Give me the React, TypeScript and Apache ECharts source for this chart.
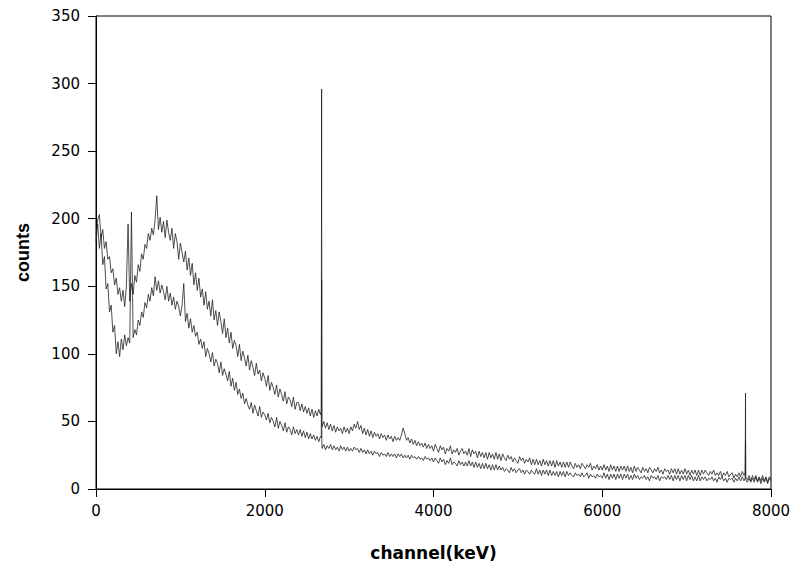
import React, { useEffect, useRef } from "react";
import * as echarts from "echarts";

const STEP = 20; // channel spacing (keV) of the sampled values below

// upper spectrum, one value every 20 keV from 0 to 8000 (20 values per 400 keV row)
const upperCounts = [
  188, 199, 203, 186, 192, 178, 183, 170, 172, 160, 163, 151, 156, 144, 149, 139, 147, 135, 150, 196,
  139, 152, 144, 158, 153, 166, 161, 174, 170, 181, 178, 189, 184, 193, 188, 199, 217, 192, 201, 190,
  198, 186, 199, 190, 184, 193, 178, 189, 183, 170, 182, 175, 168, 176, 162, 171, 158, 167, 151, 160,
  147, 156, 142, 148, 136, 146, 133, 139, 128, 140, 125, 132, 121, 131, 124, 115, 126, 112, 119, 108,
  116, 104, 110, 106, 98, 107, 95, 102, 97, 91, 99, 88, 95, 90, 84, 93, 85, 88, 80, 86,
  82, 76, 84, 73, 79, 75, 70, 77, 68, 74, 70, 65, 72, 63, 68, 66, 61, 68, 59, 64,
  64, 58, 63, 57, 61, 56, 60, 54, 59, 53, 58, 54, 59, 55, 46, 50, 45, 49, 44, 48,
  43, 47, 42, 46, 43, 45, 41, 46, 42, 45, 41, 46, 43, 48, 45, 50, 44, 47, 41, 45,
  40, 44, 39, 43, 38, 42, 39, 41, 37, 41, 38, 40, 36, 40, 37, 39, 35, 39, 36, 38,
  36, 40, 45, 41, 36, 38, 34, 37, 33, 36, 32, 35, 32, 34, 31, 34, 30, 33, 30, 32,
  28, 33, 30, 27, 32, 29, 31, 26, 30, 28, 32, 26, 29, 27, 30, 25, 28, 30, 26, 28,
  25, 30, 24, 29, 26, 28, 23, 28, 24, 27, 23, 27, 22, 27, 23, 26, 22, 27, 22, 26,
  21, 26, 23, 21, 25, 22, 24, 20, 23, 21, 19, 24, 21, 23, 19, 22, 20, 23, 18, 22,
  18, 22, 18, 21, 17, 22, 18, 21, 17, 21, 17, 21, 16, 21, 17, 20, 16, 20, 16, 20,
  16, 20, 17, 15, 19, 16, 18, 15, 19, 17, 15, 18, 16, 19, 14, 17, 15, 18, 14, 17,
  14, 18, 14, 17, 13, 18, 14, 17, 13, 17, 13, 17, 14, 17, 13, 17, 13, 16, 12, 17,
  13, 16, 14, 12, 16, 13, 15, 12, 16, 14, 12, 15, 13, 16, 12, 14, 11, 15, 13, 14,
  11, 15, 12, 15, 11, 15, 11, 14, 11, 15, 11, 14, 10, 14, 11, 14, 10, 14, 10, 14,
  11, 14, 12, 10, 13, 11, 14, 10, 12, 10, 13, 9, 12, 10, 13, 9, 11, 12, 8, 11,
  9, 12, 9, 13, 10, 8, 7, 10, 6, 10, 7, 10, 6, 9, 6, 10, 6, 9, 5, 9,
  7,
];

// lower spectrum, one value every 20 keV from 0 to 8000 (20 values per 400 keV row)
const lowerCounts = [
  183, 196, 178, 189, 166, 172, 148, 152, 131, 136, 116, 121, 100, 109, 98, 111, 103, 114, 106, 112,
  108, 205, 112, 118, 114, 125, 121, 131, 127, 138, 134, 144, 139, 149, 143, 157, 147, 154, 145, 151,
  146, 140, 150, 139, 145, 136, 142, 133, 139, 135, 128, 136, 152, 124, 130, 119, 126, 116, 121, 113,
  116, 107, 111, 104, 109, 98, 104, 100, 94, 101, 91, 96, 93, 86, 94, 84, 89, 85, 80, 87,
  76, 82, 73, 79, 70, 74, 67, 71, 63, 67, 62, 59, 64, 56, 62, 58, 54, 61, 53, 57,
  55, 51, 56, 49, 53, 50, 46, 53, 45, 50, 47, 43, 49, 42, 46, 44, 40, 46, 41, 44,
  40, 44, 39, 43, 38, 42, 37, 41, 37, 40, 36, 39, 35, 39, 30, 33, 29, 32, 30, 33,
  29, 32, 29, 31, 28, 32, 29, 31, 28, 31, 28, 30, 28, 31, 29, 30, 27, 30, 27, 29,
  26, 29, 26, 28, 25, 28, 26, 27, 24, 27, 25, 26, 24, 27, 24, 26, 24, 26, 23, 26,
  24, 26, 23, 25, 23, 25, 22, 25, 23, 24, 22, 24, 22, 23, 21, 24, 22, 23, 21, 23,
  20, 23, 21, 19, 23, 20, 22, 18, 21, 19, 23, 18, 20, 19, 17, 21, 18, 20, 17, 20,
  17, 21, 17, 20, 16, 20, 16, 19, 15, 19, 15, 19, 15, 18, 14, 18, 14, 18, 14, 17,
  14, 16, 13, 15, 14, 12, 16, 13, 15, 12, 14, 15, 12, 14, 11, 14, 13, 11, 14, 12,
  11, 15, 11, 14, 10, 14, 11, 14, 10, 14, 10, 13, 10, 13, 9, 13, 10, 13, 9, 13,
  10, 12, 10, 9, 12, 10, 11, 9, 12, 9, 10, 12, 8, 11, 9, 10, 8, 11, 9, 10,
  8, 12, 8, 11, 7, 11, 8, 11, 7, 11, 8, 11, 7, 11, 8, 11, 7, 10, 7, 11,
  8, 10, 7, 9, 8, 10, 7, 9, 6, 10, 8, 9, 7, 10, 6, 9, 8, 9, 7, 10,
  7, 10, 6, 10, 7, 10, 6, 10, 7, 10, 6, 10, 7, 10, 6, 9, 6, 10, 6, 9,
  7, 9, 6, 8, 7, 9, 6, 8, 5, 9, 7, 9, 6, 8, 5, 8, 7, 8, 5, 8,
  6, 9, 6, 9, 6, 7, 5, 8, 5, 8, 5, 9, 5, 8, 4, 8, 5, 8, 4, 8,
  6,
];

// narrow photo-peaks between the sampled channels: [channel keV, counts]
const upperPeaks = [
  [2670, 58], [2674, 296], [2677, 50],
  [7694, 12], [7698, 71],
];
const lowerPeaks = [
  [2670, 38], [2674, 155], [2677, 32],
  [7694, 8], [7698, 36],
];

const X_MIN = 0;
const X_MAX = 8000;
const X_INTERVAL = 2000;
const Y_MIN = 0;
const Y_MAX = 350;
const Y_INTERVAL = 50;

function toPoints(values: number[], peaks: number[][]) {
  const pts = values.map((v, i) => [i * STEP, v]);
  return pts.concat(peaks).sort((a, b) => a[0] - b[0]);
}

export default function App() {
  const ref = useRef<HTMLDivElement>(null);
  useEffect(() => {
    if (!ref.current) return;
    const chart = echarts.init(ref.current, undefined, { renderer: "svg" });
    const tickFont = { fontFamily: "DejaVu Sans", fontSize: 15, color: "#000" };
    chart.setOption({
      animation: false,
      backgroundColor: "#fff",
      grid: {
        left: 96,
        right: 26,
        top: 16,
        bottom: 87,
        show: true,
        borderColor: "#000",
        borderWidth: 1,
      },
      xAxis: {
        type: "value",
        min: X_MIN,
        max: X_MAX,
        interval: X_INTERVAL,
        name: "channel(keV)",
        nameLocation: "middle",
        nameGap: 55,
        nameTextStyle: { fontFamily: "DejaVu Sans", fontWeight: "bold", fontSize: 17, color: "#000" },
        axisLine: { show: true, lineStyle: { color: "#000", width: 1 } },
        axisTick: { show: true, inside: false, length: 8, lineStyle: { color: "#000" } },
        axisLabel: { ...tickFont, margin: 14, formatter: (v: number) => String(v) },
        splitLine: { show: false },
      },
      yAxis: {
        type: "value",
        min: Y_MIN,
        max: Y_MAX,
        interval: Y_INTERVAL,
        name: "counts",
        nameLocation: "middle",
        nameGap: 64,
        nameRotate: 90,
        nameTextStyle: { fontFamily: "Liberation Sans", fontWeight: "bold", fontSize: 18, color: "#000" },
        axisLine: { show: true, lineStyle: { color: "#000", width: 1 } },
        axisTick: { show: true, inside: false, length: 8, lineStyle: { color: "#000" } },
        axisLabel: { ...tickFont, margin: 16, formatter: (v: number) => String(v) },
        splitLine: { show: false },
      },
      series: [
        {
          type: "line",
          data: toPoints(upperCounts, upperPeaks),
          showSymbol: false,
          symbol: "none",
          lineStyle: { color: "#222", width: 0.8 },
        },
        {
          type: "line",
          data: toPoints(lowerCounts, lowerPeaks),
          showSymbol: false,
          symbol: "none",
          lineStyle: { color: "#222", width: 0.8 },
        },
      ],
    });
    return () => chart.dispose();
  }, []);
  return (
    <div
      ref={ref}
      style={{ position: "absolute", left: 0, top: 0, width: 797, height: 576, background: "#fff" }}
    />
  );
}
